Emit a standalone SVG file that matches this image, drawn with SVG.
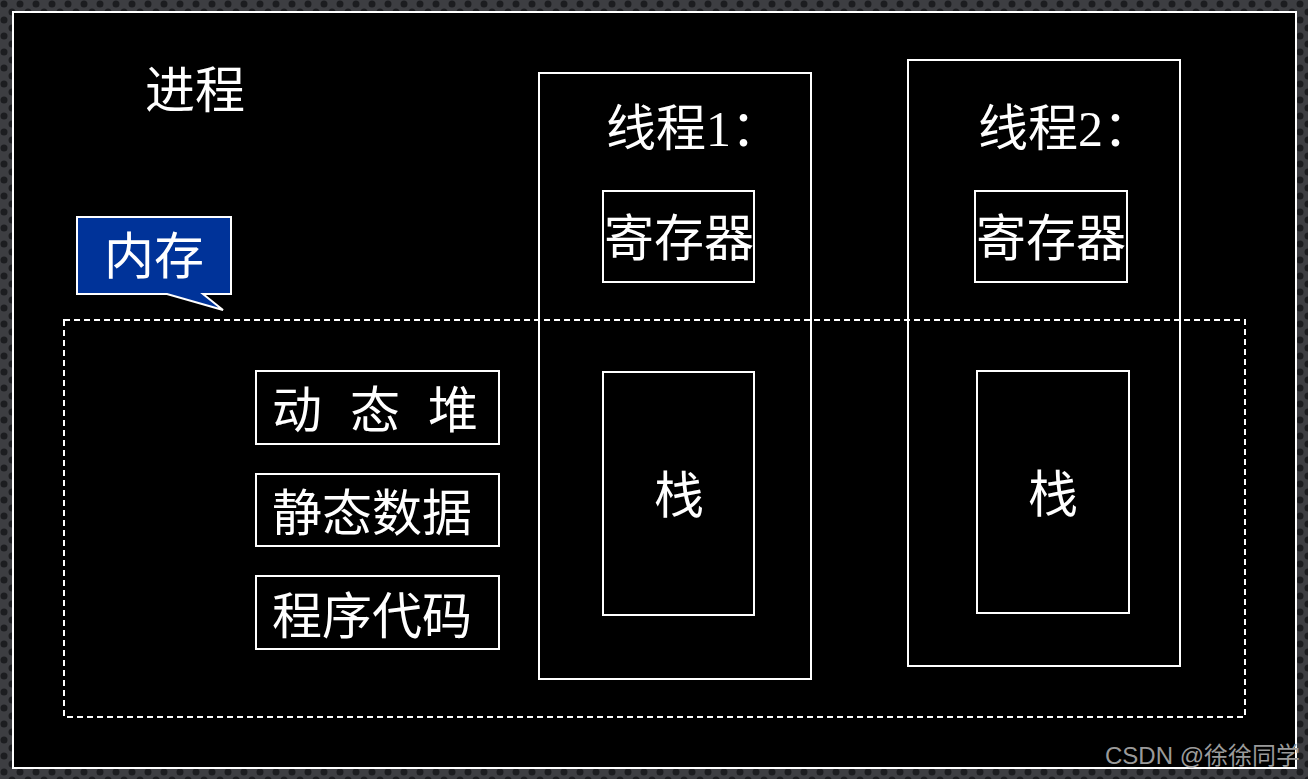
<svg xmlns="http://www.w3.org/2000/svg" width="1308" height="779" viewBox="0 0 1308 779">
<defs>
<pattern id="dots" width="16" height="16" patternUnits="userSpaceOnUse">
<rect width="16" height="16" fill="#3d3e42"/>
<circle cx="4" cy="4" r="3.5" fill="#1c1d20"/>
<circle cx="12" cy="12" r="3.5" fill="#1c1d20"/>
</pattern>
<style>
.box{fill:none;stroke:#fff;stroke-width:2}
.t{fill:#fff;font-family:"Liberation Serif","Noto Sans CJK SC",serif;font-size:50px}
.c{text-anchor:middle}
</style>
</defs>
<rect width="1308" height="779" fill="url(#dots)"/>
<rect x="13" y="12" width="1283" height="756" fill="#000" stroke="#fff" stroke-width="2"/>
<g id="process-label"><text class="t" x="145" y="108">进程</text></g>
<g id="memory-region"><rect x="64" y="320" width="1181" height="397" fill="none" stroke="#fff" stroke-width="2" stroke-dasharray="6,4"/></g>
<g id="memory-callout">
<path d="M77,217 H231 V294 H203 L223,310 L167,294 H77 Z" fill="#003399" stroke="#fff" stroke-width="2"/>
<text class="t c" x="154" y="274" font-size="48">内存</text>
</g>
<g id="heap"><rect class="box" x="256" y="371" width="243" height="73"/><text class="t" y="428"><tspan x="272">动</tspan><tspan x="350">态</tspan><tspan x="428">堆</tspan></text></g>
<g id="static"><rect class="box" x="256" y="474" width="243" height="72"/><text class="t" x="272" y="531">静态数据</text></g>
<g id="code"><rect class="box" x="256" y="576" width="243" height="73"/><text class="t" x="272" y="634">程序代码</text></g>
<g id="thread1">
<rect class="box" x="539" y="73" width="272" height="606"/>
<text class="t" x="606" y="146">线程1：</text>
</g>
<g id="thread1-reg"><rect class="box" x="603" y="191" width="151" height="91"/><text class="t c" x="679" y="256">寄存器</text></g>
<g id="thread1-stack"><rect class="box" x="603" y="372" width="151" height="243"/><text class="t c" x="679" y="513">栈</text></g>
<g id="thread2">
<rect class="box" x="908" y="60" width="272" height="606"/>
<text class="t" x="978" y="146">线程2：</text>
</g>
<g id="thread2-reg"><rect class="box" x="975" y="191" width="152" height="91"/><text class="t c" x="1051" y="256">寄存器</text></g>
<g id="thread2-stack"><rect class="box" x="977" y="371" width="152" height="242"/><text class="t c" x="1053" y="512">栈</text></g>
<g id="connectors"/>
<text x="1105" y="764" fill="#9a9a9a" font-family="'Liberation Sans','Noto Sans CJK SC',sans-serif" font-size="24">CSDN @徐徐同学</text>
</svg>
